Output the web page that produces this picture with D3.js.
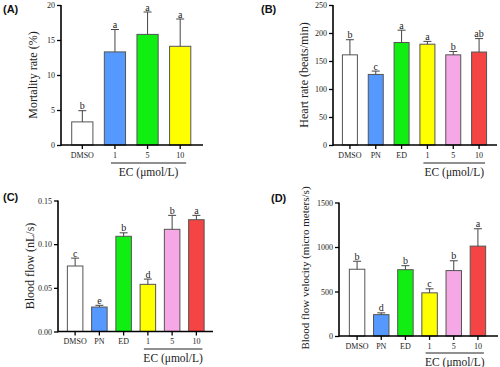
<html>
<meta charset="utf-8">
<head>
<script src="https://d3js.org/d3.v7.min.js"></script>
<style>
  html, body { margin:0; padding:0; background:#fff; }
  svg { display:block; }
</style>
</head>
<body>
<svg class="svg"></svg>
<script>

// ---- data ----
const catsA = ["DMSO", "1", "5", "10"]
const meanA = [3.3, 13.3, 15.8, 14.1]
const errA  = [4.9, 16.5, 19.0, 18.0]
const sigA  = ["b", "a", "a", "a"]
const colA  = ["#ffffff", "#5599ff", "#11ee11", "#ffff00"]
const ticksA = [0, 5, 10, 15, 20]

const cats6 = ["DMSO", "PN", "ED", "1", "5", "10"]
const col6  = ["#ffffff", "#5599ff", "#11ee11", "#ffff00", "#f5a8e5", "#f44444"]

const meanB = [161, 126, 183, 180, 161, 166]
const errB  = [188, 132, 205, 185, 167, 190]
const sigB  = ["b", "c", "a", "a", "b", "ab"]
const ticksB = [0, 50, 100, 150, 200, 250]

const meanC = [0.075, 0.028, 0.109, 0.054, 0.117, 0.128]
const errC  = [0.084, 0.030, 0.113, 0.060, 0.133, 0.133]
const sigC  = ["c", "e", "b", "d", "b", "a"]
const ticksC = [0, 0.05, 0.10, 0.15]

const meanD = [750, 240, 745, 485, 735, 1010]
const errD  = [840, 260, 790, 530, 845, 1205]
const sigD  = ["b", "d", "b", "c", "b", "a"]
const ticksD = [0, 500, 1000, 1500]

var svg = d3.select("svg").attr("width", 500).attr("height", 367)

const serif = "'Liberation Serif', 'DejaVu Serif', serif"

function panel(p) {
  var g = svg.append("g")

  var x = d3.scaleBand().domain(p.cats).range(p.xr).paddingInner(p.pad).paddingOuter(p.pad / 2)
  var y = d3.scaleLinear().domain(p.ydom).range([p.y0, p.y1])

  // bars
  g.selectAll(".bar").data(p.cats).enter().append("rect")
    .attr("x", d => x(d))
    .attr("width", x.bandwidth())
    .attr("y", (d, i) => y(p.mean[i]))
    .attr("height", (d, i) => y(0) - y(p.mean[i]))
    .attr("fill", (d, i) => p.col[i])
    .attr("stroke", "#555")
    .attr("stroke-width", 1)

  // error bars (up only) + letters
  p.cats.forEach(function(d, i) {
    var cx = x(d) + x.bandwidth() / 2
    g.append("line").attr("x1", cx).attr("x2", cx)
      .attr("y1", y(p.mean[i])).attr("y2", y(p.err[i]))
      .attr("stroke", "#444").attr("stroke-width", 1)
    g.append("line").attr("x1", cx - 4).attr("x2", cx + 4)
      .attr("y1", y(p.err[i])).attr("y2", y(p.err[i]))
      .attr("stroke", "#444").attr("stroke-width", 1)
    g.append("text").attr("x", cx).attr("y", y(p.err[i]) - 1.5)
      .attr("text-anchor", "middle")
      .style("font-family", serif).style("font-size", "10px").style("fill", "#222")
      .text(p.sig[i])
  })

  // y axis
  var ya = g.append("g")
    .attr("transform", "translate(" + p.ax + ",0)")
    .call(d3.axisLeft(y).tickValues(p.ticks).tickSize(4).tickPadding(2).tickFormat(p.fmt))
  ya.select(".domain").attr("stroke-width", 1.6).attr("d", "M0," + (p.y0 + 0.8) + "V" + p.y1)
  ya.selectAll(".tick line").attr("stroke-width", 1.3)
  ya.selectAll("text").style("font-family", serif).style("font-size", "8px").style("fill", "#222")

  // x axis
  var xa = g.append("g")
    .attr("transform", "translate(0," + p.y0 + ")")
    .call(d3.axisBottom(x).tickSize(4).tickPadding(3))
  xa.select(".domain").attr("stroke-width", 1.6).attr("d", "M" + p.ax + ",0H" + p.xend)
  xa.selectAll(".tick line").attr("stroke-width", 1.3)
  xa.selectAll("text").style("font-family", serif).style("font-size", "8px").style("fill", "#222")

  // EC bracket
  var c1 = x("1") + x.bandwidth() / 2, c2 = x("10") + x.bandwidth() / 2
  g.append("line").attr("x1", c1 - 4).attr("x2", c2 + 6)
    .attr("y1", p.ecy).attr("y2", p.ecy).attr("stroke", "#222").attr("stroke-width", 1)
  g.append("text").attr("x", (c1 + c2) / 2 + 1).attr("y", p.ecy + 12.5)
    .attr("text-anchor", "middle")
    .style("font-family", serif).style("font-size", "11.5px").style("fill", "#222")
    .text("EC (\u03bcmol/L)")

  // y title
  g.append("text")
    .attr("transform", "translate(" + p.tx + "," + (p.tcy || (p.y0 + p.y1) / 2) + ") rotate(-90)")
    .attr("text-anchor", "middle")
    .style("font-family", serif).style("font-size", p.tsize || "12px").style("fill", "#222")
    .text(p.title)

  // panel label
  g.append("text").attr("x", p.lx).attr("y", p.ly)
    .style("font-family", "'Liberation Sans', Arial, sans-serif").style("font-weight", "bold")
    .style("font-size", "11px").style("fill", "#111")
    .text(p.label)
}

panel({cats: catsA, mean: meanA, err: errA, sig: sigA, col: colA, ticks: ticksA,
  ydom: [0, 20], y0: 145, y1: 5, xr: [66, 196.5], pad: 0.35, ax: 61, xend: 203,
  ecy: 163, tx: 37, title: "Mortality rate (%)", label: "(A)", lx: 3, ly: 13,
  fmt: d3.format("d")})

panel({cats: cats6, mean: meanB, err: errB, sig: sigB, col: col6, ticks: ticksB,
  ydom: [0, 250], y0: 145, y1: 5, xr: [337, 492], pad: 0.42, ax: 333, xend: 497,
  ecy: 163, tx: 308, title: "Heart rate (beats/min)", label: "(B)", lx: 261, ly: 13,
  fmt: d3.format("d")})

panel({cats: cats6, mean: meanC, err: errC, sig: sigC, col: col6, ticks: ticksC,
  ydom: [0, 0.15], y0: 331.5, y1: 200.5, xr: [63, 208.5], pad: 0.36, ax: 58, xend: 213,
  ecy: 349, tx: 34, title: "Blood flow (nL/s)", label: "(C)", lx: 3, ly: 201,
  fmt: d3.format(".2f")})

panel({cats: cats6, mean: meanD, err: errD, sig: sigD, col: col6, ticks: ticksD,
  ydom: [0, 1500], y0: 336, y1: 202.5, xr: [345, 490], pad: 0.36, ax: 339, xend: 498,
  ecy: 353, tx: 309, tcy: 268, title: "Blood flow velocity (micro meters/s)", tsize: "11px", label: "(D)", lx: 271, ly: 202,
  fmt: d3.format("d")})

</script>
</body>
</html>
